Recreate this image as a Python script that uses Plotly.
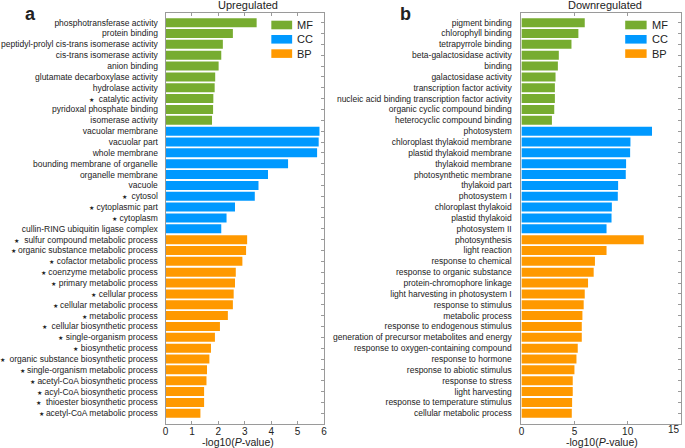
import plotly.graph_objects as go

# ---------------- data ----------------
up_mf_terms = ["phosphotransferase activity", "protein binding",
               "peptidyl-prolyl cis-trans isomerase activity", "cis-trans isomerase activity",
               "anion binding", "glutamate decarboxylase activity", "hydrolase activity",
               "*  catalytic activity", "pyridoxal phosphate binding", "isomerase activity"]
up_mf_values = [3.45, 2.55, 2.17, 2.11, 2.01, 1.88, 1.86, 1.81, 1.80, 1.76]

up_cc_terms = ["vacuolar membrane", "vacuolar part", "whole membrane",
               "bounding membrane of organelle", "organelle membrane", "vacuole",
               "*  cytosol", "* cytoplasmic part", "* cytoplasm",
               "cullin-RING ubiquitin ligase complex"]
up_cc_values = [5.83, 5.80, 5.74, 4.64, 3.88, 3.52, 3.38, 2.63, 2.31, 2.11]

up_bp_terms = ["*  sulfur compound metabolic process", "* organic substance metabolic process",
               "* cofactor metabolic process", "* coenzyme metabolic process",
               "* primary metabolic process", "* cellular process",
               "* cellular metabolic process", "* metabolic process",
               "*  cellular biosynthetic process", "* single-organism process",
               "* biosynthetic process", "*  organic substance biosynthetic process",
               "* single-organism metabolic process", "* acetyl-CoA biosynthetic process",
               "* acyl-CoA biosynthetic process", "*  thioester biosynthetic process",
               "* acetyl-CoA metabolic process"]
up_bp_values = [3.09, 3.05, 2.91, 2.66, 2.63, 2.58, 2.55, 2.36, 2.06, 1.87,
                1.72, 1.66, 1.57, 1.55, 1.46, 1.46, 1.32]

down_mf_terms = ["pigment binding", "chlorophyll binding", "tetrapyrrole binding",
                 "beta-galactosidase activity", "binding", "galactosidase activity",
                 "transcription factor activity",
                 "nucleic acid binding transcription factor activity",
                 "organic cyclic compound binding", "heterocyclic compound binding"]
down_mf_values = [5.96, 5.36, 4.71, 3.52, 3.43, 3.21, 3.15, 3.15, 3.09, 2.87]

down_cc_terms = ["photosystem", "chloroplast thylakoid membrane", "plastid thylakoid membrane",
                 "thylakoid membrane", "photosynthetic membrane", "thylakoid part",
                 "photosystem I", "chloroplast thylakoid", "plastid thylakoid", "photosystem II"]
down_cc_values = [12.29, 10.26, 10.23, 9.85, 9.82, 9.10, 9.07, 8.51, 8.48, 8.01]

down_bp_terms = ["photosynthesis", "light reaction", "response to chemical",
                 "response to organic substance", "protein-chromophore linkage",
                 "light harvesting in photosystem I", "response to stimulus",
                 "metabolic process", "response to endogenous stimulus",
                 "generation of precursor metabolites and energy",
                 "response to oxygen-containing compound", "response to hormone",
                 "response to abiotic stimulus", "response to stress", "light harvesting",
                 "response to temperature stimulus", "cellular metabolic process"]
down_bp_values = [11.51, 8.01, 6.92, 6.80, 6.27, 5.96, 5.86, 5.74, 5.68, 5.68,
                  5.30, 5.18, 4.99, 4.83, 4.83, 4.77, 4.74]

categories = ["MF", "CC", "BP"]
colors = {"MF": "#77AC30", "CC": "#0099FF", "BP": "#FF9900"}

up_ticks = [0, 1, 2, 3, 4, 5, 6]
up_tick_labels = ["0", "1", "2", "3", "4", "5", "6"]
down_ticks = [0, 5, 10, 15]
down_tick_labels = ["0", "5", "10", "15"]

# ---------------- helpers ----------------
W, H = 685, 448
FONT = "Liberation Sans, Arial, sans-serif"
TXT = "#222222"
AX = "#9a9a9a"


def px_x(p):
    return p / W


def px_y(p):
    return 1 - p / H


def fmt(label):
    if label.startswith("*"):
        rest = label[1:]
        n = len(rest) - len(rest.lstrip(" "))
        return ("<span style='font-size:6px'>\u2605</span>" + "\u00a0" * n + rest.lstrip(" "))
    return label


fig = go.Figure()

panels = [
    ("x", "y", "y3", [(up_mf_terms, up_mf_values), (up_cc_terms, up_cc_values),
                      (up_bp_terms, up_bp_values)]),
    ("x2", "y2", "y4", [(down_mf_terms, down_mf_values), (down_cc_terms, down_cc_values),
                        (down_bp_terms, down_bp_values)]),
]

panel_labels = {}
for xa, ya, yo, groups in panels:
    pos = 0
    labels = []
    for cat, (terms, vals) in zip(categories, groups):
        ys = list(range(pos, pos + len(terms)))
        pos += len(terms)
        labels += [fmt(t) for t in terms]
        fig.add_trace(go.Bar(x=vals, y=ys, orientation="h", xaxis=xa, yaxis=ya,
                             width=0.83, marker=dict(color=colors[cat], line=dict(width=0)),
                             name=cat, showlegend=False, hoverinfo="x+y"))
    # invisible trace for the overlay (right-side tick) axis
    fig.add_trace(go.Scatter(x=[None], y=[None], xaxis=xa, yaxis=yo, showlegend=False,
                             hoverinfo="skip"))
    panel_labels[ya] = labels

n_rows = len(panel_labels["y"])
yrange = [n_rows - 1 + 0.99, -0.89]

ydom = [px_y(424), px_y(13)]
xdom1 = [px_x(164), px_x(323.8)]
xdom2 = [px_x(523), px_x(683.8)]

xcommon = dict(showline=True, linecolor=AX, linewidth=1, mirror="ticks", ticks="inside",
               ticklen=3, tickcolor=AX, showgrid=False, zeroline=False,
               tickfont=dict(family=FONT, size=10, color=TXT), ticklabelstandoff=-2,
               tickmode="array")
ycommon = dict(showline=True, linecolor=AX, linewidth=1, mirror=True, ticks="",
               showgrid=False, zeroline=False, range=yrange,
               tickfont=dict(family=FONT, size=8.5, color=TXT))
yover = dict(showline=False, ticks="inside", ticklen=3, tickcolor=AX, side="right",
             showticklabels=False, showgrid=False, zeroline=False, range=yrange,
             tickmode="array", tickvals=list(range(n_rows)))

fig.update_layout(
    width=W, height=H, margin=dict(l=0, r=0, t=0, b=0),
    paper_bgcolor="white", plot_bgcolor="white", barmode="overlay",
    xaxis=dict(domain=xdom1, range=[0, 6], tickvals=up_ticks, ticktext=up_tick_labels,
               anchor="y", **xcommon),
    # last label (at the page edge) is drawn right-aligned as an annotation below
    xaxis2=dict(domain=xdom2, range=[0, 15], tickvals=down_ticks,
                ticktext=down_tick_labels[:-1] + [""], anchor="y2", **xcommon),
    yaxis=dict(domain=ydom, anchor="x", tickmode="array", tickvals=list(range(n_rows)),
               ticktext=panel_labels["y"], ticklabelstandoff=5, **ycommon),
    yaxis2=dict(domain=ydom, anchor="x2", tickmode="array",
                tickvals=list(range(len(panel_labels["y2"]))),
                ticktext=panel_labels["y2"], ticklabelstandoff=7, **ycommon),
    yaxis3=dict(overlaying="y", anchor="x", **yover),
    yaxis4=dict(overlaying="y2", anchor="x2", **yover),
)

fig.add_annotation(text=down_tick_labels[-1], x=down_ticks[-1], xref="x2",
                   y=px_y(429.5), yref="paper", xanchor="right", yanchor="middle",
                   showarrow=False, xshift=1,
                   font=dict(family=FONT, size=10, color=TXT))

# titles and labels
ann = [
    dict(text="<b>a</b>", x=px_x(28), y=px_y(14.5), size=18),
    dict(text="<b>b</b>", x=px_x(406), y=px_y(13.5), size=18),
    dict(text="Upregulated", x=px_x(247.5), y=px_y(5), size=11),
    dict(text="Downregulated", x=px_x(607), y=px_y(5), size=11),
    dict(text="-log10(<i>P</i>-value)", x=px_x(236.7), y=px_y(441.5), size=10.5),
    dict(text="-log10(<i>P</i>-value)", x=px_x(604), y=px_y(442), size=10.5),
]
for a in ann:
    fig.add_annotation(text=a["text"], x=a["x"], y=a["y"], xref="paper", yref="paper",
                       showarrow=False, xanchor="center", yanchor="middle",
                       font=dict(family=FONT, size=a["size"], color=TXT))

# custom legends (swatch + label) for each panel
legend_rows = [25, 39.3, 53.6]
for x0, x1, xt in [(270.7, 291.7, 294.5), (627.7, 649.3, 652.5)]:
    for cat, yc in zip(categories, legend_rows):
        fig.add_shape(type="rect", xref="paper", yref="paper",
                      x0=px_x(x0), x1=px_x(x1), y0=px_y(yc - 4.3), y1=px_y(yc + 4.3),
                      fillcolor=colors[cat], line=dict(width=0))
        fig.add_annotation(text=cat, x=px_x(xt), y=px_y(yc), xref="paper", yref="paper",
                           showarrow=False, xanchor="left", yanchor="middle",
                           font=dict(family=FONT, size=11, color=TXT))

fig.write_html(
    "out.html",
    config={"displayModeBar": False},
    post_script="document.body.style.margin='0px';document.body.style.overflow='hidden';",
)
